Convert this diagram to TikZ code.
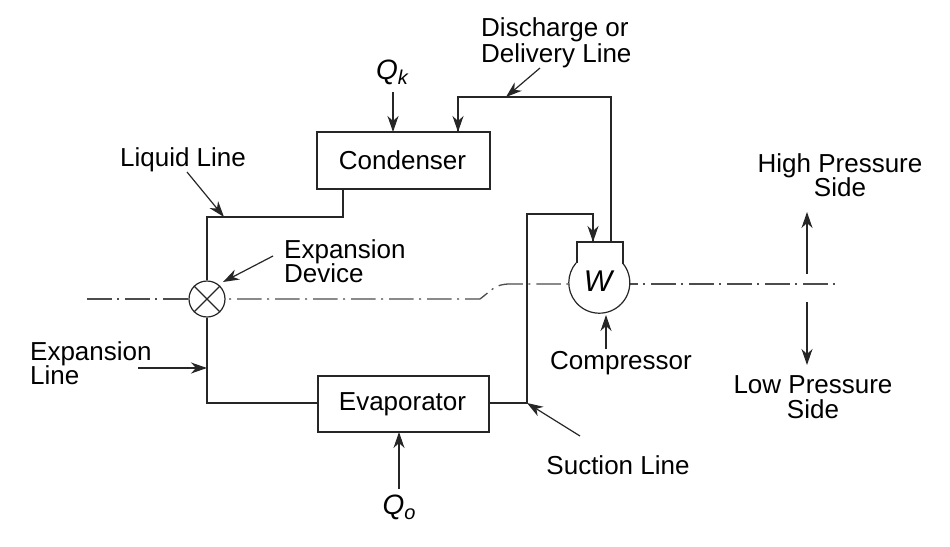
\documentclass[tikz,border=0pt]{standalone}
\usepackage{fontspec}
\setmainfont{Liberation Sans}
\usetikzlibrary{arrows.meta}
\tikzset{
  line/.style={draw=black!85,line width=1.2pt,line join=miter},
  arr/.style={line,-{Stealth[length=16pt,width=11pt,inset=5pt]}},
  centre/.style={draw=black!70,line width=1.3pt,dash pattern=on 24.5pt off 5.5pt on 2pt off 6pt},
  lab/.style={inner sep=0pt,font=\fontsize{26}{24.5}\selectfont,align=center},
  boxnode/.style={line,rectangle,inner sep=0pt,minimum height=57pt,font=\fontsize{26}{26}\selectfont}
}
\newcommand{\Qsym}[1]{{\fontsize{28}{28}\selectfont\itshape Q\raisebox{-5pt}{\fontsize{20}{20}\selectfont #1}}}
\begin{document}
\begin{tikzpicture}[x=1pt,y=-1pt]
\useasboundingbox (0,0) rectangle (950,546);
% nodes
\node[boxnode,minimum width=173pt] (cond) at (403.5,160.5) {\hspace{-2pt}\raisebox{-1pt}{Condenser}};
\node[boxnode,minimum width=171pt,minimum height=56pt] (evap) at (403.5,404) {\hspace{-2pt}\raisebox{-1pt}{Evaporator}};
\node[line,circle,inner sep=0pt,minimum size=36pt] (valve) at (207,299) {};
\node[circle,inner sep=0pt,minimum size=60pt,outer sep=0pt] (comp) at (599,284) {};
\node[lab,font=\fontsize{30}{30}\selectfont\itshape] (wlab) at (598,281) {W};
% labels
\node[lab] (qk) at (392,72) {\Qsym{k}};
\node[lab] (qo) at (399,507) {\Qsym{o}};
\node[lab,align=left,anchor=west] (dis) at (481,43) {Discharge or\\[1.5pt]Delivery Line};
\node[lab] (liq) at (183,160) {Liquid Line};
\node[lab,align=left,anchor=west] (expd) at (284,261) {Expansion\\Device};
\node[lab,align=left,anchor=west] (expl) at (30,363) {Expansion\\Line};
\node[lab] (high) at (840,175) {High Pressure\\Side};
\node[lab] (low) at (813,397) {Low Pressure\\Side};
\node[lab] (compl) at (621,363) {Compressor};
\node[lab] (suc) at (618,465) {Suction Line};
% coordinates
\coordinate (liqc) at (343,217);
\coordinate (liql) at (207,217);
\coordinate (liqtip) at (224,217);
\coordinate (liqfrom) at (187,172);
\coordinate (exl) at (207,403);
\coordinate (exmid) at (207,368);
\coordinate (exfrom) at (138,368);
\coordinate (sucj) at (527,403);
\coordinate (sucfrom) at (580,436);
\coordinate (suct) at (527,214);
\coordinate (sucr) at (593,214);
\coordinate (hl) at (577,242);
\coordinate (hr) at (623,242);
\coordinate (hlb) at (577,263);
\coordinate (hrb) at (623,263.5);
\coordinate (suchead) at (593,242);
\coordinate (dish) at (611,242);
\coordinate (distr) at (611,97);
\coordinate (distl) at (458,97);
\coordinate (disin) at (458,132);
\coordinate (disfrom) at (540,68);
\coordinate (distip) at (506,97);
\coordinate (qkfrom) at (393,92);
\coordinate (qkto) at (393,132);
\coordinate (qofrom) at (399,489);
\coordinate (qoto) at (399,432);
\coordinate (edfrom) at (273,256);
\coordinate (edto) at (223,282);
\coordinate (cpfrom) at (606,349);
\coordinate (cpto) at (606,315);
\coordinate (hp) at (807,274);
\coordinate (hpup) at (807,212);
\coordinate (lp) at (807,302);
\coordinate (lpdn) at (807,365);
\coordinate (cl0) at (87,299);
\coordinate (cl1) at (226,299);
\coordinate (cl2) at (480,299);
\coordinate (cl3) at (510,284);
\coordinate (cl4) at (569,284);
\coordinate (cl5) at (630,284);
\coordinate (cl6) at (836,284);
% centre line
\draw[centre,dash phase=0pt] (cl0) -- (valve.west);
\draw[centre,dash phase=27pt] (cl1) -- (cl2) .. controls (492,290) and (495,284) .. (cl3) -- (cl4);
\draw[centre,dash phase=17pt] (cl5) -- (cl6);
% lines
\draw[line] (cond.south -| liqc) -- (liqc) -- (liql) -- (valve.north);
\draw[line] (valve.south) -- (exl) -- (exl -| evap.west);
\draw[line] (evap.east |- sucj) -- (sucj) -- (suct) -- (sucr) -- (sucr |- suchead);
\draw[line] (hlb) -- (hl) -- (hr) -- (hrb);
\draw[line] (hrb) arc[start angle=-39,end angle=220.6,radius=30.5];
\draw[line] (dish) -- (distr) -- (distl) -- (distl |- disin);
% valve cross
\draw[line] (valve.45) -- (valve.225);
\draw[line] (valve.135) -- (valve.315);
% arrows
\draw[arr] (distl) -- (disin);
\draw[arr] (sucr) -- (suchead);
\draw[arr] (qkfrom) -- (qkto);
\draw[arr] (qofrom) -- (qoto);
\draw[arr] (disfrom) -- (distip);
\draw[arr] (liqfrom) -- (liqtip);
\draw[arr] (edfrom) -- (edto);
\draw[arr] (exfrom) -- (exmid);
\draw[arr] (sucfrom) -- (sucj);
\draw[arr] (cpfrom) -- (cpto);
\draw[arr] (hp) -- (hpup);
\draw[arr] (lp) -- (lpdn);
\end{tikzpicture}
\end{document}
